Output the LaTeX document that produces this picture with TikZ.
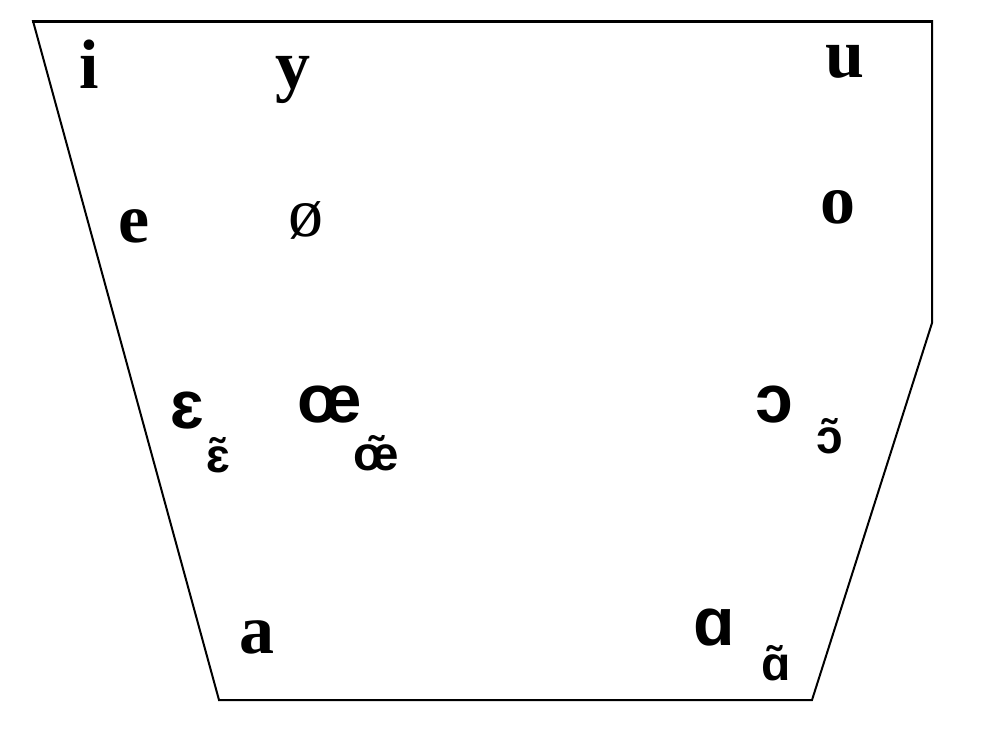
\documentclass[tikz,border=0pt]{standalone}
\usepackage{fontspec}
\setmainfont{Liberation Serif}
\newfontfamily\ipasans{Liberation Sans}
\begin{document}
\begin{tikzpicture}[x=1pt,y=-1pt,
  serifv/.style={anchor=base,inner sep=0pt,font=\fontsize{70}{70}\selectfont\bfseries},
  sansv/.style={anchor=base,inner sep=0pt,font=\fontsize{68}{68}\selectfont\ipasans\bfseries},
  nasalv/.style={anchor=base,inner sep=0pt,font=\fontsize{48}{48}\selectfont\ipasans\bfseries}]
\useasboundingbox (0,0) rectangle (982,736);
\fill[white] (0,0) rectangle (982,736);
\draw[line width=2pt,line join=miter] (33,21) -- (932,21) -- (932,323) -- (812,700) -- (219,700) -- cycle;
\draw[line width=3pt] (32,21) -- (933,21);
\node[serifv] (i) at (89,88) {i};
\node[serifv] (y) at (293,88) {y};
\node[serifv] (u) at (845,77) {u};
\node[serifv] (e) at (134,242) {e};
\node[serifv,font=\fontsize{70}{70}\selectfont] (oe) at (306,236) {ø};
\node[serifv] (o) at (838,223) {o};
\node[serifv] (a) at (257,653) {a};
\node[sansv] (eps) at (187,428) {ɛ};
\node[sansv] (oel) at (330,422) {œ};
\node[sansv] (oo) at (774,422) {ɔ};
\node[sansv] (aa) at (714,645) {ɑ};
\node[nasalv] (epsn) at (218,472) {ɛ̃};
\node[nasalv] (oeln) at (376,470) {œ̃};
\node[nasalv] (oon) at (830,453) {ɔ̃};
\node[nasalv] (aan) at (776,680) {ɑ̃};
\end{tikzpicture}
\end{document}
